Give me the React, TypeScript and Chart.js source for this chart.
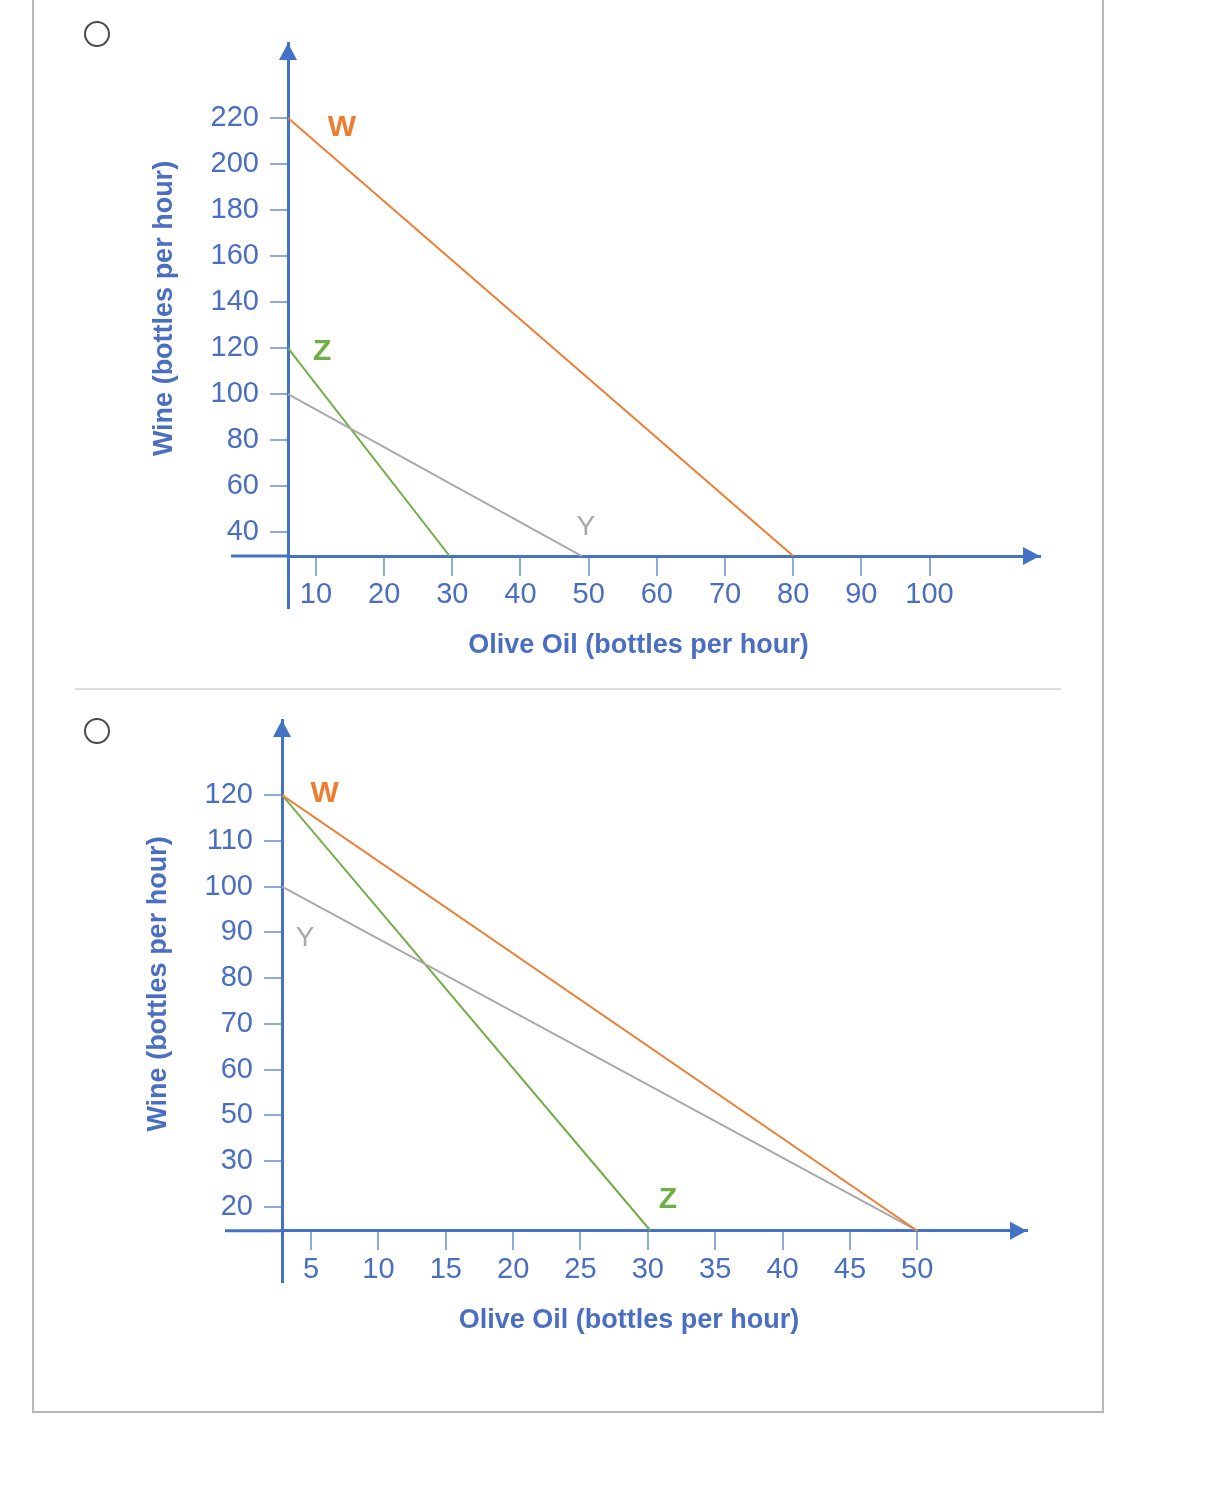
import { Chart, registerables } from 'chart.js'
import { useEffect, useRef } from 'react'

Chart.register(...registerables)

// ---- top panel ----
const topOilTicks = [10, 20, 30, 40, 50, 60, 70, 80, 90, 100]
const topWineTicks = [40, 60, 80, 100, 120, 140, 160, 180, 200, 220]
const topW = [{ x: 5.9, y: 220 }, { x: 80, y: 29.6 }]
const topZ = [{ x: 5.9, y: 120 }, { x: 29.6, y: 29.6 }]
const topY = [{ x: 5.9, y: 100 }, { x: 49, y: 29.6 }]
const topLetters = [
  { text: 'W', x: 13.8, y: 215.7 },
  { text: 'Z', x: 10.9, y: 118.3 },
  { text: 'Y', x: 49.6, y: 42.2 },
]

// ---- bottom panel ----
const bottomOilTicks = [5, 10, 15, 20, 25, 30, 35, 40, 45, 50]
const bottomWineTicks = [120, 110, 100, 90, 80, 70, 60, 50, 40, 30]
const bottomWineLabels = ['120', '110', '100', '90', '80', '70', '60', '50', '30', '20']
const bottomW = [{ x: 2.84, y: 120 }, { x: 50, y: 24.8 }]
const bottomZ = [{ x: 2.84, y: 120 }, { x: 30.2, y: 24.8 }]
const bottomY = [{ x: 2.84, y: 100 }, { x: 50, y: 24.8 }]
const bottomLetters = [
  { text: 'W', x: 6.0, y: 120.2 },
  { text: 'Y', x: 4.55, y: 88.8 },
  { text: 'Z', x: 31.5, y: 31.5 },
]

const BLUE = '#4472c4'
const TEXT = '#4a6ec2'
const TICK = '#8eaadb'
const ORANGE = '#ed7d31'
const GREEN = '#70ad47'
const GRAY = '#a9a9a9'
const FONT = '"Liberation Sans", Arial, sans-serif'

interface Letter { text: string; x: number; y: number }

interface PanelProps {
  oilTicks: number[]
  wineTicks: number[]
  wineLabels?: string[]
  W: { x: number; y: number }[]
  Z: { x: number; y: number }[]
  Y: { x: number; y: number }[]
  letters: Letter[]
  xMin: number
  xMax: number
  yMin: number
  yMax: number
  crossY: number
  padding: { left: number; right: number; top: number; bottom: number }
  style: React.CSSProperties
}

const letterColor: Record<string, string> = { W: ORANGE, Z: GREEN, Y: GRAY }

// arrows, the x axis stub left of the y axis, axis titles and the W/Z/Y letters
const extras = {
  id: 'extras',
  afterDraw(chart: any) {
    const { ctx, chartArea, scales } = chart
    const opts = chart.options.plugins.extras
    const ax = chartArea.left
    const ay = scales.y.getPixelForValue(opts.crossY)
    ctx.save()
    ctx.strokeStyle = BLUE
    ctx.lineWidth = 3
    ctx.beginPath()
    ctx.moveTo(ax - 57, ay)
    ctx.lineTo(ax, ay)
    ctx.stroke()

    ctx.fillStyle = BLUE
    // y arrow
    ctx.beginPath()
    ctx.moveTo(ax, chartArea.top)
    ctx.lineTo(ax - 9, chartArea.top + 17)
    ctx.lineTo(ax + 9, chartArea.top + 17)
    ctx.closePath()
    ctx.fill()
    // x arrow
    ctx.beginPath()
    ctx.moveTo(chartArea.right, ay)
    ctx.lineTo(chartArea.right - 17, ay - 9)
    ctx.lineTo(chartArea.right - 17, ay + 9)
    ctx.closePath()
    ctx.fill()

    ctx.fillStyle = TEXT
    ctx.font = `bold 27px ${FONT}`
    ctx.textAlign = 'center'
    ctx.textBaseline = 'middle'
    // x title, centred on the whole x axis line
    ctx.fillText('Olive Oil (bottles per hour)', (ax - 57 + chartArea.right) / 2 + 3, ay + 90)

    // y title
    ctx.translate(ax - 123, (chartArea.top + chartArea.bottom) / 2 - 17)
    ctx.rotate(-Math.PI / 2)
    ctx.fillText('Wine (bottles per hour)', 0, 0)
    ctx.restore()

    ctx.save()
    ctx.textAlign = 'center'
    ctx.textBaseline = 'middle'
    for (const l of opts.letters as Letter[]) {
      ctx.fillStyle = letterColor[l.text]
      ctx.font = l.text === 'Y' ? `28px ${FONT}` : `bold 30px ${FONT}`
      ctx.fillText(l.text, scales.x.getPixelForValue(l.x), scales.y.getPixelForValue(l.y))
    }
    ctx.restore()
  },
}

function Panel(p: PanelProps) {
  const chartRef = useRef<HTMLCanvasElement>(null)
  const chartInstance = useRef<Chart | null>(null)

  useEffect(() => {
    if (!chartRef.current) return
    if (chartInstance.current) chartInstance.current.destroy()

    const line = (data: { x: number; y: number }[], color: string) => ({
      data,
      borderColor: color,
      borderWidth: 2,
      pointRadius: 0,
      fill: false,
      tension: 0,
    })

    chartInstance.current = new Chart(chartRef.current, {
      type: 'line',
      data: {
        datasets: [line(p.W, ORANGE), line(p.Y, GRAY), line(p.Z, GREEN)],
      },
      plugins: [extras],
      options: {
        responsive: false,
        animation: false,
        layout: { padding: p.padding },
        scales: {
          x: {
            type: 'linear',
            min: p.xMin,
            max: p.xMax,
            position: { y: p.crossY },
            afterFit: (s: any) => {
              s.paddingLeft = 0
              s.paddingRight = 0
            },
            afterBuildTicks: (s: any) => {
              s.ticks = p.oilTicks.map((v) => ({ value: v }))
            },
            ticks: {
              color: TEXT,
              font: { family: FONT, size: 29 },
              padding: 4,
              autoSkip: false,
              maxRotation: 0,
            },
            grid: { drawOnChartArea: false, tickLength: 18, color: TICK, lineWidth: 2 },
            border: { color: BLUE, width: 3 },
          },
          y: {
            type: 'linear',
            min: p.yMin,
            max: p.yMax,
            position: 'left',
            afterFit: (s: any) => {
              // fixed width so the y axis sits exactly where it should
              s.width = 100
              s.paddingTop = 0
              s.paddingBottom = 0
            },
            afterBuildTicks: (s: any) => {
              s.ticks = p.wineTicks.map((v) => ({ value: v }))
            },
            ticks: {
              color: TEXT,
              font: { family: FONT, size: 29 },
              padding: 11,
              autoSkip: false,
              callback: (v: any, i: number) => (p.wineLabels ? p.wineLabels[i] : String(v)),
            },
            grid: { drawOnChartArea: false, tickLength: 18, color: TICK, lineWidth: 2 },
            border: { color: BLUE, width: 3 },
          },
        },
        plugins: {
          legend: { display: false },
          tooltip: { enabled: false },
          extras: { crossY: p.crossY, letters: p.letters },
        },
      } as any,
    })

    return () => {
      if (chartInstance.current) {
        chartInstance.current.destroy()
        chartInstance.current = null
      }
    }
  }, [])

  return <canvas ref={chartRef} width={980} height={660} style={{ position: 'absolute', ...p.style }} />
}

function Radio({ top }: { top: number }) {
  return (
    <div
      style={{
        position: 'absolute',
        left: 84,
        top: top - 13,
        width: 26,
        height: 26,
        borderRadius: '50%',
        border: '2px solid #4a4a4a',
        boxSizing: 'border-box',
        background: '#fff',
      }}
    />
  )
}

export default function App() {
  return (
    <div style={{ position: 'absolute', left: 0, top: 0, width: 1212, height: 1496, background: '#fff', overflow: 'hidden' }}>
      <div
        style={{
          position: 'absolute',
          left: 32,
          top: -10,
          width: 1072,
          height: 1423,
          border: '2px solid #b5b5b5',
          boxSizing: 'border-box',
        }}
      />
      <div style={{ position: 'absolute', left: 75, top: 688, width: 986, height: 2, background: '#dcdcdc' }} />
      <Radio top={34} />
      <Radio top={731} />
      <Panel
        oilTicks={topOilTicks}
        wineTicks={topWineTicks}
        W={topW}
        Z={topZ}
        Y={topY}
        letters={topLetters}
        xMin={5.9}
        xMax={116.2}
        yMin={7.0}
        yMax={252.6}
        crossY={29.6}
        padding={{ left: 88, right: 40, top: 23, bottom: 72 }}
        style={{ left: 100, top: 20 }}
      />
      <Panel
        oilTicks={bottomOilTicks}
        wineTicks={bottomWineTicks}
        wineLabels={bottomWineLabels}
        W={bottomW}
        Z={bottomZ}
        Y={bottomY}
        letters={bottomLetters}
        xMin={2.84}
        xMax={58.15}
        yMin={13.6}
        yMax={136.4}
        crossY={24.8}
        padding={{ left: 82, right: 53, top: 20, bottom: 78 }}
        style={{ left: 100, top: 700 }}
      />
    </div>
  )
}
